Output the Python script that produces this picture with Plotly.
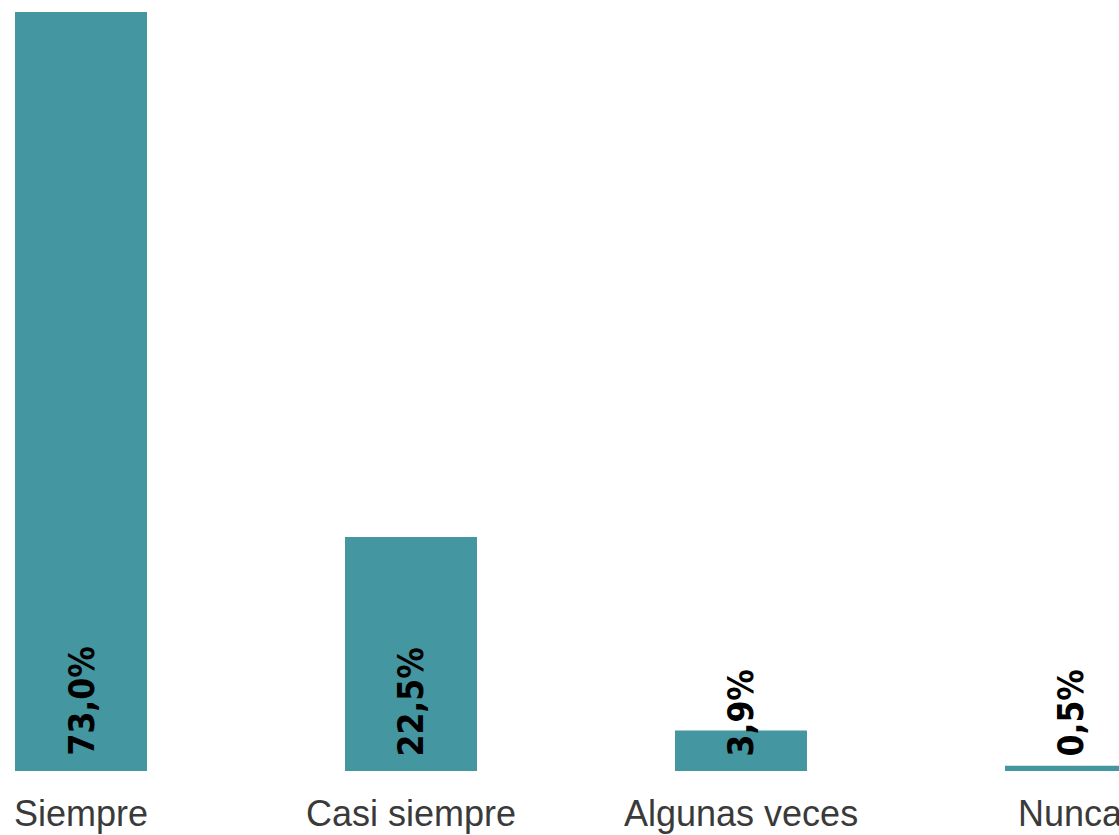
import plotly.graph_objects as go

categories = ["Siempre", "Casi siempre", "Algunas veces", "Nunca"]
values = [73.0, 22.5, 3.9, 0.5]
value_labels = ["73,0%", "22,5%", "3,9%", "0,5%"]

positions = list(range(len(categories)))
bar_color = "#4496a1"

fig = go.Figure()
fig.add_trace(go.Bar(
    x=positions, y=values, width=0.4,
    marker=dict(color=bar_color, line=dict(width=0)),
    hoverinfo="skip",
))

for xp, lab in zip(positions, value_labels):
    fig.add_annotation(
        x=xp, y=0, xref="x", yref="y", text=lab, showarrow=False,
        textangle=-90, xanchor="center", yanchor="bottom", yshift=13,
        font=dict(family="DejaVu Sans Condensed, DejaVu Sans", size=35, color="black",
                  weight="bold"),
    )

# category labels under the bars
for xp, cat in zip(positions, categories):
    fig.add_annotation(
        x=xp, y=0, xref="x", yref="y", text=cat, showarrow=False,
        xanchor="center", yanchor="middle", yshift=-42,
        font=dict(family="Liberation Sans", size=36, color="#3a3a3a"),
    )

fig.update_layout(
    width=1119, height=835,
    margin=dict(l=15, r=0, t=12, b=64),
    paper_bgcolor="white", plot_bgcolor="white",
    showlegend=False,
    xaxis=dict(range=[-0.2, 3.1455], showticklabels=False,
               showgrid=False, zeroline=False, showline=False, ticks=""),
    yaxis=dict(range=[0, 73], showgrid=False, zeroline=False, showline=False,
               showticklabels=False, ticks=""),
)
fig.write_html(
    "out.html",
    config={"displayModeBar": False},
    post_script="document.body.style.margin='0';"
                "document.documentElement.style.overflow='hidden';",
)
